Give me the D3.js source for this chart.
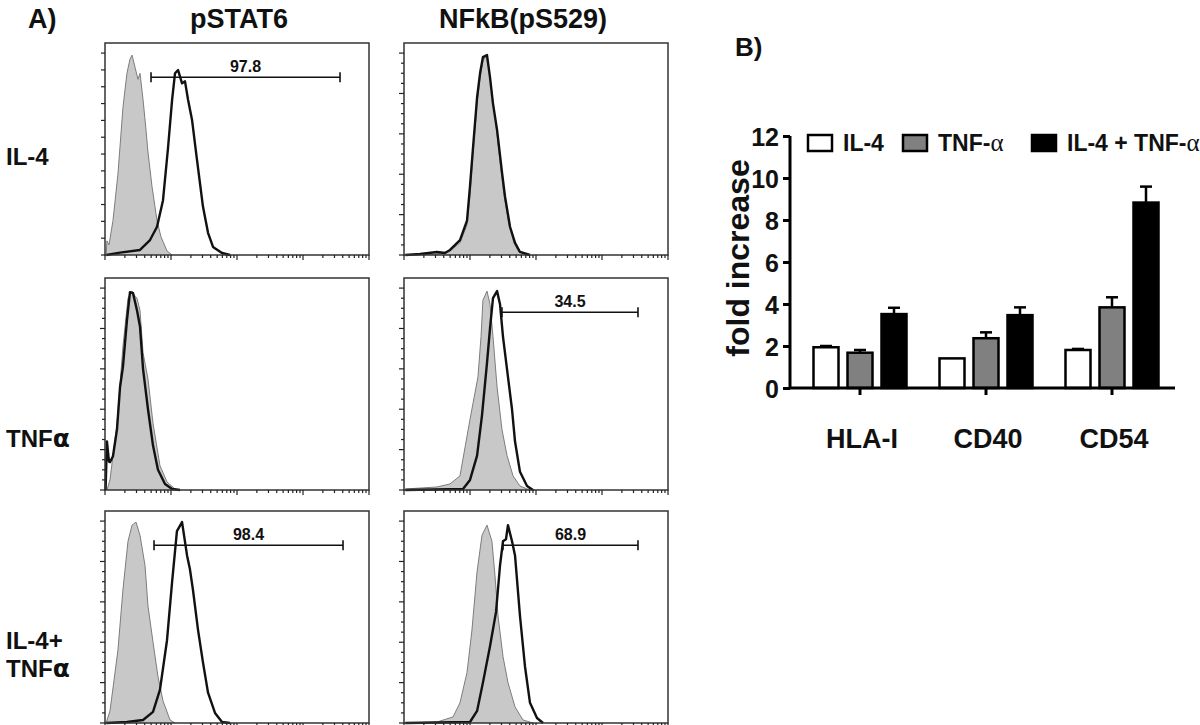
<!DOCTYPE html>
<html><head><meta charset="utf-8">
<script src="https://cdn.jsdelivr.net/npm/d3@7"></script>
<style>
body{margin:0;background:#fff;}
text{font-family:"Liberation Sans",Arial,sans-serif;font-weight:bold;fill:#111;}
</style></head>
<body><svg id="chart" width="1200" height="725"></svg>
<script>
// ---------- Panel A: flow histograms ----------
const columnTitles = ["pSTAT6", "NFkB(pS529)"];
const rowLabels = [["IL-4"], ["TNFα"], ["IL-4+", "TNFα"]];
// [fluorescence intensity, % of max]
const isoIL4_pSTAT6 = [[1.04,0],[1.07,7],[1.15,5],[1.32,17],[1.57,40],[1.87,73],[2.15,90],[2.39,97],[2.57,99],[2.85,93],[3.16,87],[3.39,90],[3.77,77],[4.18,62],[4.48,51],[5.15,34],[6.14,17],[7.05,9],[8.70,2],[10.4,0]];
const stimIL4_pSTAT6 = [[1.05,0],[1.69,1.2],[3.39,2.5],[4.81,7.4],[6.14,14],[7.56,27],[9.01,53],[10.4,77],[11.5,90],[12.8,91.6],[14.7,85],[16.3,86],[18.1,77],[20.8,67],[24.8,47],[30.5,24],[36.4,11],[43.3,4],[59.3,1],[78.3,0]];
const isoIL4_NFkB = [[1.05,0],[3.16,0.5],[4.98,2],[7.05,6],[9.01,15],[10.0,30],[11.1,50],[12.8,75],[14.2,88],[15.7,96],[17.5,99],[19.4,92],[21.5,80],[24.8,64],[29.5,42],[32.7,30],[39.0,15],[46.4,6],[55.3,1.5],[75.7,0]];
const stimIL4_NFkB = [[1.05,0],[1.75,0.5],[3.16,1.5],[4.18,1],[4.98,2.5],[7.05,7.4],[9.01,17],[10.0,34],[11.1,53],[12.8,78],[14.2,90],[15.7,98],[18.1,99],[20.1,88],[22.3,75],[25.7,62],[30.5,41],[33.9,29],[40.4,14],[48.1,6],[57.2,1.5],[81.1,0]];
const isoTNF_pSTAT6 = [[1.07,0],[1.19,5],[1.52,33],[1.87,71],[2.23,95],[2.57,98.5],[2.85,96],[3.05,95],[3.39,89],[3.77,68],[4.48,55],[5.34,33],[6.81,12],[8.70,4],[11.5,0.5],[13.7,0]];
const stimTNF_pSTAT6 = [[1.02,0],[1.07,24],[1.15,14],[1.19,13.8],[1.32,16.7],[1.52,30],[1.69,51],[1.87,61],[2.15,84],[2.39,98],[2.66,97.5],[3.05,89],[3.39,81],[3.77,60],[4.48,40],[5.34,22],[6.35,10],[8.11,3],[10.4,0.5],[13.7,0]];
const isoTNF_NFkB = [[1.05,0.5],[3.16,1.5],[4.98,3],[7.05,7],[10.0,35],[13.2,56],[14.7,76],[15.7,94],[18.1,98.5],[20.1,92],[22.3,76],[25.7,51],[30.5,30],[36.4,17],[44.9,7],[57.2,2],[73.1,0.5],[96.6,0]];
const stimTNF_NFkB = [[1.05,0],[7.83,0.5],[10.0,5],[12.8,17],[15.2,37],[18.1,63],[20.1,80],[22.3,95],[25.7,98.5],[28.5,92],[31.6,76],[37.6,56],[43.3,40],[48.1,24],[57.2,9],[73.1,2],[90.1,0]];
const isoCombo_pSTAT6 = [[1.04,0],[1.19,6],[1.57,36],[1.87,66],[2.23,90],[2.57,98],[2.95,99.5],[3.39,93],[4.04,78],[4.48,58],[5.34,40],[6.35,23],[7.56,11],[9.66,1.5],[11.5,0]];
const stimCombo_pSTAT6 = [[1.05,0],[2.15,0.5],[3.77,1.5],[5.34,5.5],[6.81,16.5],[8.70,41],[10.4,70],[12.3,95],[14.7,99.5],[17.5,83],[19.4,76],[21.5,66],[25.7,46],[30.5,30],[36.4,15],[46.4,5],[59.3,0.5],[78.3,0]];
const isoCombo_NFkB = [[1.05,0],[3.16,0.5],[5.53,3],[7.05,10],[9.01,25],[10.7,46],[12.8,75],[15.2,93],[18.1,98],[21.5,90],[23.9,73],[26.6,53],[31.6,33],[37.6,20],[48.1,8],[63.5,1.5],[90.1,0]];
const stimCombo_NFkB = [[1.05,0],[10.0,0.5],[12.8,6],[15.7,20],[20.1,38],[24.8,55],[28.5,78],[31.6,90],[35.1,91],[37.6,98],[43.3,90],[48.1,83],[57.2,53],[68.1,28],[81.1,10],[103.5,2.5],[128,0]];
// gates: [start, end, height %, label]
const gates = [[4.98,3640,88,"97.8"], null, null, [30.5,3510,88,"34.5"], [5.53,4040,88,"98.4"], [31.6,3510,88,"68.9"]];
const isoSeries = [isoIL4_pSTAT6, isoIL4_NFkB, isoTNF_pSTAT6, isoTNF_NFkB, isoCombo_pSTAT6, isoCombo_NFkB];
const stimSeries = [stimIL4_pSTAT6, stimIL4_NFkB, stimTNF_pSTAT6, stimTNF_NFkB, stimCombo_pSTAT6, stimCombo_NFkB];

// ---------- Panel B: bar chart ----------
const barCategories = ["HLA-I", "CD40", "CD54"];
const barSeries = ["IL-4", "TNF-α", "IL-4 + TNF-α"];
const il4Means = [1.94, 1.41, 1.81];
const il4Errors = [0.06, 0.0, 0.05];
const tnfMeans = [1.68, 2.37, 3.84];
const tnfErrors = [0.13, 0.28, 0.48];
const comboMeans = [3.52, 3.47, 8.83];
const comboErrors = [0.30, 0.37, 0.76];
const yTicksB = [0, 2, 4, 6, 8, 10, 12];

const svg = d3.select("#chart");

// layout
const colLeft = [105, 404], panelW = 264;
const rowTop = [43, 278, 511], panelH = 212;

svg.append("text").attr("x", 28).attr("y", 28).style("font-size", "27px").text("A)");
columnTitles.forEach((t, i) => {
  svg.append("text").attr("x", colLeft[i] + panelW / 2 + (i === 0 ? 2 : -13)).attr("y", 28)
    .attr("text-anchor", "middle").style("font-size", "27px").text(t);
});
const rowBase = [165, 447, 649];
rowLabels.forEach((lines, r) => {
  lines.forEach((l, k) => {
    const t = svg.append("text").attr("x", 6).attr("y", rowBase[r] + k * 28).style("font-size", "24px");
    const parts = l.split("α");
    t.append("tspan").text(parts[0]);
    if (parts.length > 1) t.append("tspan").style("font-family", "DejaVu Sans, sans-serif").style("font-size", "25px").text("α");
  });
});

for (let r = 0; r < 3; r++) {
  for (let c = 0; c < 2; c++) {
    const idx = r * 2 + c;
    const left = colLeft[c], top = rowTop[r];
    const x = d3.scaleLog().domain([1, 1e4]).range([left, left + panelW]);
    const y = d3.scaleLinear().domain([0, 105]).range([top + panelH, top]);
    const g = svg.append("g");
    // histograms
    const area = d3.area().x(d => x(d[0])).y0(y(0)).y1(d => y(d[1]));
    const line = d3.line().x(d => x(d[0])).y(d => y(d[1]));
    g.append("path").datum(isoSeries[idx]).attr("d", area).attr("fill", "#c8c8c8");
    g.append("path").datum(isoSeries[idx]).attr("d", line).attr("fill", "none").attr("stroke", "#7d7d7d").attr("stroke-width", 1);
    g.append("path").datum(stimSeries[idx]).attr("d", line).attr("fill", "none").attr("stroke", "#111").attr("stroke-width", 2.4).attr("stroke-linejoin", "round");
    // frame
    g.append("rect").attr("x", left).attr("y", top).attr("width", panelW).attr("height", panelH)
      .attr("fill", "none").attr("stroke", "#333").attr("stroke-width", 1.5);
    // x ticks (log)
    const xt = [];
    for (let e = 0; e < 4; e++) for (let m = 1; m < 10; m++) xt.push(m * Math.pow(10, e));
    xt.push(1e4);
    g.selectAll(".xt").data(xt).enter().append("line")
      .attr("x1", d => x(d)).attr("x2", d => x(d))
      .attr("y1", top + panelH).attr("y2", d => top + panelH + (Math.log10(d) % 1 === 0 ? 5 : 3))
      .attr("stroke", "#222").attr("stroke-width", 1.2);
    // y ticks
    let yt;
    if (idx === 0) yt = d3.range(0, 13).map(i => ({v: i * 100 / 12, len: 4}));
    else yt = d3.range(0, 21).map(i => ({v: i * 5, len: i % 4 === 0 ? 5 : 3}));
    g.selectAll(".yt").data(yt).enter().append("line")
      .attr("x1", left).attr("x2", d => left - d.len)
      .attr("y1", d => y(d.v)).attr("y2", d => y(d.v))
      .attr("stroke", "#222").attr("stroke-width", 1.2);
    // gate
    const gt = gates[idx];
    if (gt) {
      const gy = y(gt[2]);
      g.append("line").attr("x1", x(gt[0])).attr("x2", x(gt[1])).attr("y1", gy).attr("y2", gy).attr("stroke", "#111").attr("stroke-width", 1.6);
      [gt[0], gt[1]].forEach(v => g.append("line").attr("x1", x(v)).attr("x2", x(v)).attr("y1", gy - 5).attr("y2", gy + 5).attr("stroke", "#111").attr("stroke-width", 1.6));
      g.append("text").attr("x", (x(gt[0]) + x(gt[1])) / 2).attr("y", gy - 5).attr("text-anchor", "middle")
        .style("font-size", "16px").text(gt[3]);
    }
  }
}

// ---------- Bar chart ----------
svg.append("text").attr("x", 735).attr("y", 56).style("font-size", "26px").text("B)");
const yB = d3.scaleLinear().domain([0, 12]).range([388, 136]);
const xB = d3.scaleBand().domain(barCategories).range([797, 1175]);
const xInner = d3.scaleBand().domain(barSeries).range([-46.5, 46.5]).paddingInner(9 / 34);
const fills = ["#ffffff", "#808080", "#000000"];
const means = [il4Means, tnfMeans, comboMeans];
const errs = [il4Errors, tnfErrors, comboErrors];

const gB = svg.append("g");
barSeries.forEach((s, si) => {
  barCategories.forEach((cat, ci) => {
    const cx = xB(cat) + xB.bandwidth() / 2;
    const bx = cx + xInner(s);
    const bw = xInner.bandwidth();
    const m = means[si][ci], e = errs[si][ci];
    if (e > 0) {
      const mx = bx + bw / 2;
      gB.append("line").attr("x1", mx).attr("x2", mx).attr("y1", yB(m)).attr("y2", yB(m + e)).attr("stroke", "#000").attr("stroke-width", 2.5);
      gB.append("line").attr("x1", mx - 6).attr("x2", mx + 6).attr("y1", yB(m + e)).attr("y2", yB(m + e)).attr("stroke", "#000").attr("stroke-width", 2.5);
    }
    gB.append("rect").attr("x", bx).attr("y", yB(m)).attr("width", bw).attr("height", yB(0) - yB(m))
      .attr("fill", fills[si]).attr("stroke", "#000").attr("stroke-width", 2.5);
  });
});

// y axis
const yAxis = gB.append("g").attr("transform", "translate(790,0)")
  .call(d3.axisLeft(yB).tickValues(yTicksB).tickSize(7).tickPadding(4).tickFormat(d3.format("d")));
yAxis.select(".domain").attr("stroke-width", 3).attr("d", `M0,${yB(12)}V${yB(0)}`);
yAxis.selectAll(".tick line").attr("stroke-width", 3);
yAxis.selectAll(".tick text").style("font-size", "25px").style("font-family", "Liberation Sans, Arial, sans-serif").style("font-weight", "bold").attr("fill", "#111").attr("dy", "0.36em");

// x axis
gB.append("line").attr("x1", 790).attr("x2", 1175).attr("y1", yB(0)).attr("y2", yB(0)).attr("stroke", "#000").attr("stroke-width", 3);
barCategories.forEach(cat => {
  const cx = xB(cat) + xB.bandwidth() / 2;
  gB.append("line").attr("x1", cx).attr("x2", cx).attr("y1", yB(0)).attr("y2", yB(0) + 7).attr("stroke", "#000").attr("stroke-width", 3);
  gB.append("text").attr("x", cx + 2).attr("y", 448).attr("text-anchor", "middle").style("font-size", "27px").text(cat);
});

svg.append("text").attr("transform", "translate(749,258) rotate(-90)").attr("text-anchor", "middle")
  .style("font-size", "32px").text("fold increase");

// legend
const legX = [808, 903, 1032];
barSeries.forEach((s, i) => {
  gB.append("rect").attr("x", legX[i]).attr("y", 135).attr("width", 24).attr("height", 16)
    .attr("fill", fills[i]).attr("stroke", "#000").attr("stroke-width", 2.5);
  const t = gB.append("text").attr("x", legX[i] + 35).attr("y", 151).style("font-size", "23px");
  const parts = s.split("α");
  t.append("tspan").text(parts[0]);
  if (parts.length > 1) t.append("tspan").style("font-family", "Liberation Serif, serif").style("font-weight", "normal").style("font-size", "25px").text("α");
});
</script></body></html>
